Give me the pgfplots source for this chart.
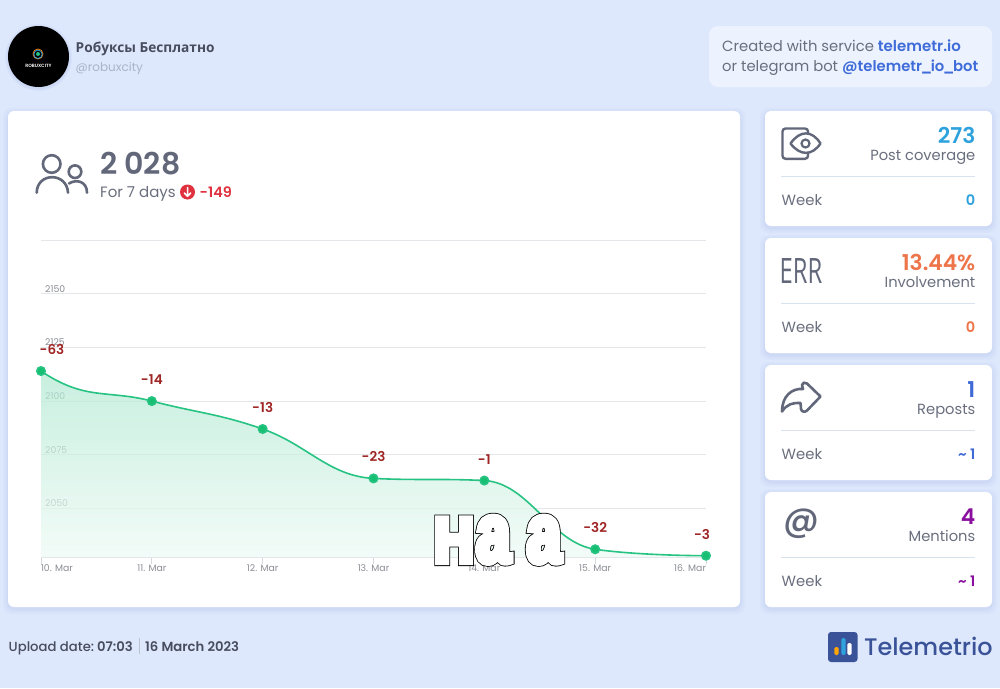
\documentclass[border=0pt]{standalone}
\usepackage{fontspec}
\usepackage{pgfplots}
\pgfplotsset{compat=1.18}
\setmainfont{Poppins}[BoldFont=Poppins SemiBold]
\newfontfamily\medf{Poppins Medium}
\newfontfamily\cyrf{Open Sans}
\newfontfamily\memef[FakeStretch=0.85]{Liberation Sans Bold}
\newfontfamily\memeg[FakeStretch=0.72]{Liberation Sans Bold}
\definecolor{bg}{HTML}{DEE8FD}
\definecolor{boxbg}{HTML}{EDF3FE}
\definecolor{shadowc}{HTML}{B4C6EC}
\definecolor{ink}{HTML}{62677A}
\definecolor{txt}{HTML}{6A6F7E}
\definecolor{dark}{HTML}{474D5E}
\definecolor{mute}{HTML}{AAB3C8}
\definecolor{link}{HTML}{3F6CD8}
\definecolor{sep}{HTML}{D8E2EC}
\definecolor{cA}{HTML}{2EA2DC}
\definecolor{cB}{HTML}{EE7449}
\definecolor{cC}{HTML}{3F6AD6}
\definecolor{cD}{HTML}{8A0F9E}
\definecolor{redd}{HTML}{E0313F}
\definecolor{lab}{HTML}{A02626}
\definecolor{lin}{HTML}{27C382}
\definecolor{mrk}{HTML}{17BF72}
\definecolor{gridc}{HTML}{E4E6EA}
\definecolor{tickc}{HTML}{8A8D94}
\definecolor{logoc}{HTML}{3A5398}
\newcommand{\fs}[1]{\fontsize{#1}{#1}\selectfont}

% spline handler: control points 0.4 dx from each point, clamped so the curve
% never runs past its neighbours
\makeatletter
\def\hc@q#1#2{\pgfqpoint{#1pt}{#2pt}}
\def\hc@point#1{%
  \pgf@process{#1}%
  \edef\hc@cx{\pgf@sys@tonumber\pgf@x}\edef\hc@cy{\pgf@sys@tonumber\pgf@y}%
  \ifnum\hc@n=0
    \pgf@plot@first@action{\hc@q{\hc@cx}{\hc@cy}}%
  \else\ifnum\hc@n=1
    \pgfmathsetmacro\hc@tx{(1.5*\hc@bx+\hc@cx)/2.5}%
    \xdef\hc@rx{\hc@tx}\xdef\hc@ry{\hc@cy}%
  \else
    \pgfmathsetmacro\hc@lx{(1.5*\hc@bx+\hc@ax)/2.5}%
    \pgfmathsetmacro\hc@ly{(1.5*\hc@by+\hc@ay)/2.5}%
    \pgfmathsetmacro\hc@tx{(1.5*\hc@bx+\hc@cx)/2.5}%
    \pgfmathsetmacro\hc@ty{(1.5*\hc@by+\hc@cy)/2.5}%
    \pgfmathsetmacro\hc@k{(\hc@ty-\hc@ly)*((\hc@tx-\hc@bx)/(\hc@tx-\hc@lx))+\hc@by-\hc@ty}%
    \pgfmathsetmacro\hc@ly{\hc@ly+\hc@k}%
    \pgfmathsetmacro\hc@ty{\hc@ty+\hc@k}%
    \pgfmathparse{(\hc@ly>\hc@ay && \hc@ly>\hc@by) ? 1 : ((\hc@ly<\hc@ay && \hc@ly<\hc@by) ? 2 : 0)}%
    \ifcase\pgfmathresult\relax\or
      \pgfmathsetmacro\hc@ly{max(\hc@ay,\hc@by)}\pgfmathsetmacro\hc@ty{2*\hc@by-\hc@ly}%
    \or
      \pgfmathsetmacro\hc@ly{min(\hc@ay,\hc@by)}\pgfmathsetmacro\hc@ty{2*\hc@by-\hc@ly}%
    \fi
    \pgfmathparse{(\hc@ty>\hc@cy && \hc@ty>\hc@by) ? 1 : ((\hc@ty<\hc@cy && \hc@ty<\hc@by) ? 2 : 0)}%
    \ifcase\pgfmathresult\relax\or
      \pgfmathsetmacro\hc@ty{max(\hc@cy,\hc@by)}\pgfmathsetmacro\hc@ly{2*\hc@by-\hc@ty}%
    \or
      \pgfmathsetmacro\hc@ty{min(\hc@cy,\hc@by)}\pgfmathsetmacro\hc@ly{2*\hc@by-\hc@ty}%
    \fi
    \pgfpathcurveto{\hc@q{\hc@rx}{\hc@ry}}{\hc@q{\hc@lx}{\hc@ly}}{\hc@q{\hc@bx}{\hc@by}}%
    \xdef\hc@rx{\hc@tx}\xdef\hc@ry{\hc@ty}%
  \fi\fi
  \xdef\hc@ax{\hc@bx}\xdef\hc@ay{\hc@by}%
  \xdef\hc@bx{\hc@cx}\xdef\hc@by{\hc@cy}%
  \pgfmathtruncatemacro\hc@m{\hc@n+1}\xdef\hc@n{\hc@m}%
}
\def\hc@end{\pgfpathcurveto{\hc@q{\hc@rx}{\hc@ry}}{\hc@q{\hc@bx}{\hc@by}}{\hc@q{\hc@bx}{\hc@by}}}
\def\pgfplothandlerhcspline{%
  \def\pgf@plotstreamstart{%
    \gdef\hc@n{0}\gdef\hc@ax{0}\gdef\hc@ay{0}\gdef\hc@bx{0}\gdef\hc@by{0}%
    \global\let\pgf@plotstreampoint=\hc@point
    \global\let\pgf@plotstreamspecial=\@gobble
    \global\let\pgf@plotstreamend=\hc@end}}
\tikzset{hcspline/.code={\let\tikz@plot@handler=\pgfplothandlerhcspline}}
\makeatother

% text at a baseline: left, right
\tikzset{L/.style={anchor=base west,inner sep=0},R/.style={anchor=base east,inner sep=0}}
% white card with a soft shadow, corners in picture pixels
\newcommand{\card}[4]{%
  \foreach \g in {5,3.5,2,1}
    \fill[shadowc,opacity=0.10,rounded corners=8] (#1-\g,#2-\g+2) rectangle (#3+\g,#4+\g+2);
  \fill[white,rounded corners=6] (#1,#2) rectangle (#3,#4);}
% side card: top, colour, value, name, week value
\newcommand{\sidecard}[5]{%
  \card{765}{#1}{992}{#1+115}
  \node[R,text=#2] at (975.5,#1+32.3) {\fs{21.8}\bfseries #3};
  \node[R,text=txt] at (975.5,#1+49) {\fs{14.7}#4};
  \draw[sep,line width=0.8] (781,#1+65.3) -- (975,#1+65.3);
  \node[L,text=txt] at (781.5,#1+94) {\fs{14.8}Week};
  \node[R,text=#2] at (975.5,#1+94) {\fs{14.5}\bfseries #5};}
% white fat letters with a thin black rim
\newcommand{\rim}[1]{%
  \rlap{\special{pdf:code q 2 Tr 8 w 0 j 3 M 0 0 0 RG}#1\special{pdf:code Q}}%
  \special{pdf:code q 2 Tr 6.4 w 0 j 3 M 1 1 1 RG}#1\special{pdf:code Q}}
\begin{document}
\begin{tikzpicture}[x=1pt,y=-1pt]
\fill[bg] (0,0) rectangle (1000,688);

% header
\foreach \g in {3,2,1}
  \fill[shadowc,opacity=0.15] (38.5,57.5) circle[radius=30.5+\g];
\fill[black] (38.5,56.5) circle[radius=30.5];
\draw[orange,line width=0.8] (38,54) circle[radius=5];
\draw[cA,line width=0.8] (38,54.3) circle[radius=4.2];
\fill[lin] (38,54) circle[radius=2];
\node[inner sep=0,text=white] at (38.5,66) {\fs{4.6}\bfseries ROBUXCITY};
\node[L,text=dark] at (75.5,52.7) {\fs{13.7}\cyrf\bfseries Робуксы Бесплатно};
\node[L,text=mute] at (75.5,71) {\fs{12}@robuxcity};

\fill[boxbg,rounded corners=9] (709,26) rectangle (992,87);
\node[L,text=txt] at (722,51.7) {\fs{14.8}Created with service {\color{link}\bfseries\fs{15}telemetr.io}};
\node[L,text=txt] at (722,71.7) {\fs{14.8}or telegram bot {\color{link}\bfseries @telemetr\kern-1.5pt\_\kern-1.5pt io\kern-1.5pt\_\kern-1.5pt bot}};

% main card
\card{8}{111}{740}{607}
\draw[ink,line width=2.6] (51.7,164) circle[radius=8.8];
\draw[ink,line width=2.6] (75,171.7) circle[radius=6.3];
\draw[ink,line width=2.6,line cap=round] (36.7,192.7) .. controls (37,172) and (67,172) .. (68,192.7);
\draw[ink,line width=2.6,line cap=round] (69,183.5) .. controls (76,179) and (87,181) .. (87,192.7);
\node[L,text=ink] at (100,174) {\fs{30}\bfseries 2 028};
\node[L,text=txt] at (100,197.7) {\fs{15}For 7 days};
\fill[redd] (187.5,192) circle[radius=7.5];
\draw[white,line width=1.5,line cap=round,line join=round] (187.5,187.5) -- (187.5,196) (184.3,193) -- (187.5,196.3) -- (190.7,193);
\node[L,text=redd] at (199.5,197.7) {\fs{14.4}\bfseries -149};

\begin{axis}[
  at={(41pt,-557pt)},anchor=south west,scale only axis,width=665pt,height=317pt,
  xmin=0,xmax=6,ymin=2027.4,ymax=2175,clip=false,
  axis x line*=bottom,axis y line*=left,
  x axis line style={draw=gridc,line width=1pt,-},
  y axis line style={draw=none,-},
  xtick={0,1,2,3,4,5,6},
  xticklabels={\makebox[0pt][l]{10. Mar},11. Mar,12. Mar,13. Mar,14. Mar,15. Mar,\makebox[0pt][r]{16. Mar}},
  ytick={2050,2075,2100,2125,2150,2175},
  yticklabels={2050,2075,2100,2125,2150,},
  ymajorgrids,
  major grid style={draw=gridc,line width=0.9pt},
  x tick style={draw=gridc!85!gray,line width=0.8pt},
  major tick length=7pt,
  y tick style={draw=none},
  tick align=outside,
  xtick pos=bottom,
  x tick label style={font=\fs{9.3},text=tickc,inner sep=0,anchor=base,yshift=-7.5pt},
  y tick label style={font=\fs{9.3},text=tickc,anchor=base west,inner sep=0,xshift=11pt,yshift=1.5pt},
  point meta=explicit symbolic,
]
\addplot[draw=none,top color=lin!36!white,bottom color=lin!8!white,fill opacity=0.7,hcspline,forget plot]
  coordinates {(0,2114)(1,2100)(2,2087)(3,2064)(4,2063)(5,2031)(6,2028)} \closedcycle;
\addplot[lin,line width=1.6pt,hcspline,mark=*,mark size=4.2pt,
  mark options={fill=mrk,draw=none},
  nodes near coords,
  nodes near coords style={font=\fs{13.5}\bfseries,text=lab,anchor=base,yshift=16.5pt,inner sep=0},
  coordinate style/.condition={x==0}{xshift=11pt},
  coordinate style/.condition={x==6}{xshift=-4pt},
]
  coordinates {(0,2114)[-63] (1,2100)[-14] (2,2087)[-13] (3,2064)[-23] (4,2063)[-1] (5,2031)[-32] (6,2028)[-3]};
\end{axis}

% text laid over the chart
\node[L,text=white] at (434.6,562) {\rim{{\memef\fs{63}Н}\hspace{3pt}{\memeg\fs{84}а}\hspace{17pt}{\memeg\fs{84}а}}};

% side cards
\sidecard{111}{cA}{273}{Post coverage}{0}
\sidecard{238}{cB}{13.44\%}{Involvement}{0}
\sidecard{365}{cC}{1}{Reposts}{\textasciitilde\ 1}
\sidecard{492}{cD}{4}{Mentions}{\textasciitilde\ 1}

% icons
\draw[ink,line width=2.4,rounded corners=3,line cap=round] (808,134) -- (808,128.5) -- (782.5,128.5) -- (782.5,158.8) -- (808,158.8) -- (808,153);
\draw[ink,line width=2.4,line join=round,fill=white] (790.5,143.5) .. controls (800,130) and (812,130) .. (820.5,143.5) .. controls (812,156) and (800,156) .. (790.5,143.5) -- cycle;
\draw[ink,line width=2.2] (805.5,143.5) circle[radius=4];
\node[inner sep=0,text=ink] at (801,271) {\scalebox{0.68}[1]{\fs{35}\cyrf ERR}};
\draw[ink,line width=2.6,line join=round,line cap=round] (782,411.5) .. controls (782,396) and (792,388) .. (803,389) -- (802,385) .. controls (802,382.5) and (805,381.8) .. (807,383.5) -- (820.5,396.5) -- (807,410.5) .. controls (805,412.5) and (801.5,412) .. (801,409) -- (800.5,403) .. controls (793,402.5) and (787,404) .. (782,411.5) -- cycle;
\node[inner sep=0,text=ink] at (801,524) {\fs{35}\medf @};

% footer
\node[L,text=dark] at (8.5,651.7) {\fs{13.2}\medf Upload date:};
\node[L,text=dark] at (97,651.7) {\fs{13.2}\bfseries 07:03};
\draw[sep!70!gray,line width=0.6] (139,638) -- (139,654);
\node[L,text=dark] at (145,651.7) {\fs{13.2}\bfseries 16 March 2023};
\fill[logoc,rounded corners=3] (828,632) rectangle (857.5,662);
\fill[orange!70!yellow,rounded corners=1.5] (834.3,647) rectangle (838.7,655);
\fill[cA,rounded corners=1.5] (841.3,638) rectangle (845.5,655);
\fill[white,rounded corners=1.5] (847.3,643) rectangle (851.7,655);
\node[L,text=logoc] at (864,655) {\fs{23.9}\medf Telemetrio};
\end{tikzpicture}
\end{document}
